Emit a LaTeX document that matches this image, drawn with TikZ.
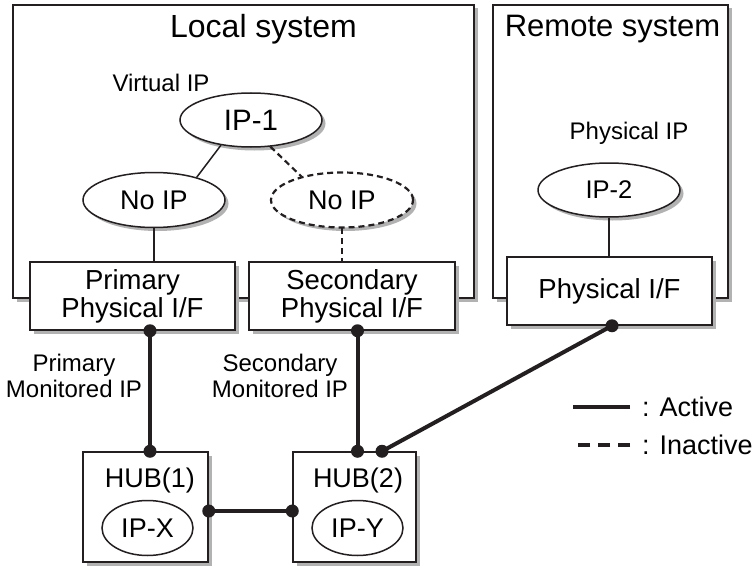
\documentclass[tikz,border=0pt]{standalone}
\usepackage{fontspec}
\setmainfont{Liberation Sans}
\usetikzlibrary{shapes.geometric,shadows,positioning}

\definecolor{ink}{RGB}{35,31,32}
\tikzset{
  shade/.style={drop shadow={shadow xshift=3.5pt,shadow yshift=-3.5pt,fill=gray!60,opacity=1}},
  sysbox/.style={draw=ink,line width=1.5pt,fill=white,shade,inner sep=0pt},
  ifbox/.style={draw=ink,line width=1.5pt,fill=white,shade,inner sep=0pt,align=center,
    minimum height=68pt,font=\fontsize{27.5}{28}\selectfont},
  ipell/.style={ellipse,draw=ink,line width=1.5pt,fill=white,shade,inner sep=0pt,
    minimum width=142pt,minimum height=54pt,font=\fontsize{27}{28}\selectfont},
  hubell/.style={ellipse,draw=ink,line width=1.5pt,inner sep=0pt,
    minimum width=91pt,minimum height=55pt,font=\fontsize{27}{28}\selectfont},
  small/.style={align=center,font=\fontsize{24}{26}\selectfont},
  legtext/.style={anchor=west,inner sep=2pt,font=\fontsize{27}{28}\selectfont},
  thin/.style={draw=ink,line width=1.5pt},
  off/.style={draw=ink,line width=2.2pt,dash pattern=on 6pt off 4pt},
  active/.style={draw=ink,line width=4pt},
  inactive/.style={draw=ink,line width=4pt,dash pattern=on 12pt off 8pt}
}

\begin{document}
\begin{tikzpicture}[x=1pt,y=-1pt]
	\useasboundingbox (0,0) rectangle (752,567);
	% systems
	\node[sysbox,minimum width=461pt,minimum height=293pt] (local) at (243.5,151.5) {};
	\node[sysbox,minimum width=235pt,minimum height=293pt] (remote) at (610.5,151.5) {};
	\node[font=\fontsize{32}{34}\selectfont] (lt) at (263.5,29) {Local system};
	\node[font=\fontsize{31}{34}\selectfont] (rt) at (612.5,29) {Remote system};
	% addresses
	\node[small] (vip) at (161,83) {Virtual IP};
	\node[ipell,font=\fontsize{29.5}{30}\selectfont] (ip1) at (251,120) {IP-1};
	\node[ipell,minimum height=55pt] (noa) at (154,200) {No IP};
	\node[ipell,minimum height=55pt,draw=none] (nob) at (342,200) {No IP};
	\draw[off] (nob.center) ellipse (71pt and 27.5pt);
	\node[small] (pip) at (629,133) {Physical IP};
	\node[ipell,font=\fontsize{25.5}{26}\selectfont] (ip2) at (609,190) {IP-2};
	% interfaces
	\node[ifbox,minimum width=205pt] (pri) at (132.5,296) {Primary\\Physical I/F};
	\node[ifbox,minimum width=206pt] (sec) at (352,296) {Secondary\\Physical I/F};
	\node[ifbox,minimum width=205pt] (phy) at (609.5,291) {Physical I/F};
	\draw[thin] (ip1.220) -- (noa.28);
	\draw[off] (ip1.306) -- (nob.150);
	\draw[thin] (noa.south) -- (noa.south |- pri.north);
	\draw[off] (nob.south) -- (nob.south |- sec.north);
	\draw[thin] (ip2.south) -- (ip2.south |- phy.north);
	% hubs
	\node[sysbox,minimum width=125pt,minimum height=110pt] (hub1) at (145.5,507) {};
	\node[sysbox,minimum width=123pt,minimum height=110pt] (hub2) at (354.5,507) {};
	\node[font=\fontsize{27}{28}\selectfont] (h1t) at (150,481) {HUB(1)};
	\node[font=\fontsize{27}{28}\selectfont] (h2t) at (358,481) {HUB(2)};
	\node[hubell] (ipx) at (147.5,528) {IP-X};
	\node[hubell] (ipy) at (357.5,528) {IP-Y};
	\node[small] (pmon) at (74,376) {Primary\\Monitored IP};
	\node[small] (smon) at (280,376) {Secondary\\Monitored IP};
	% links
	\coordinate (pa) at ([xshift=17.5pt]pri.south);
	\coordinate (pb) at (pa |- hub1.north);
	\coordinate (sa) at (sec.south -| ipy);
	\coordinate (sb) at (sa |- hub2.north);
	\coordinate (ra) at ([xshift=2.5pt]phy.south);
	\coordinate (rb) at ([xshift=27.5pt]hub2.north);
	\coordinate (ha) at ([yshift=-4pt]hub1.east);
	\coordinate (hb) at ([yshift=-4pt]hub2.west);
	\draw[active] (pa) -- (pb);
	\draw[active] (sa) -- (sb);
	\draw[active] (ra) -- (rb);
	\draw[active] (ha) -- (hb);
	\foreach \d in {pa,pb,sa,sb,ra,rb,ha,hb}
	{
		\fill[ink] (\d) circle (6.5pt);
	}
	% legend
	\node[legtext] (act) at (640,407) {: Active};
	\node[legtext] (ina) at (640,445) {: Inactive};
	\draw[active] ([xshift=-10pt]act.west) -- ++(-57,0);
	\draw[inactive] ([xshift=-10pt]ina.west) -- ++(-57,0);
\end{tikzpicture}
\end{document}
